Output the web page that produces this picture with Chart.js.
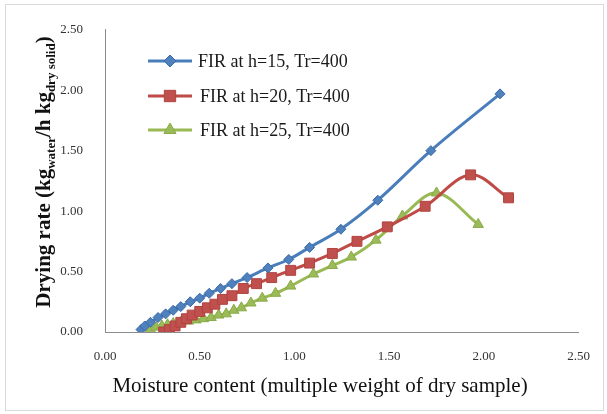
<!DOCTYPE html>
<html>
<head>
<meta charset="utf-8">
<script src="https://cdn.jsdelivr.net/npm/chart.js@4/dist/chart.umd.min.js"></script>
<style>
  html, body { margin: 0; padding: 0; background: #fff; }
  #wrap { width: 607px; height: 414px; position: relative; }
</style>
</head>
<body>
<div id="wrap"><canvas id="c" width="607" height="414"></canvas></div>
<script>
// Moisture content (x) and drying rate (y) for each FIR run
const moistureH15 = [0.19, 0.21, 0.24, 0.28, 0.32, 0.36, 0.40, 0.45, 0.50, 0.55, 0.61, 0.67, 0.75, 0.86, 0.97, 1.08, 1.245, 1.44, 1.72, 2.085];
const rateH15     = [0.02, 0.05, 0.08, 0.12, 0.15, 0.18, 0.21, 0.25, 0.28, 0.32, 0.36, 0.40, 0.45, 0.53, 0.60, 0.70, 0.85, 1.09, 1.50, 1.97];

const moistureH20 = [0.31, 0.34, 0.37, 0.40, 0.43, 0.46, 0.50, 0.54, 0.58, 0.62, 0.67, 0.73, 0.80, 0.88, 0.98, 1.08, 1.20, 1.33, 1.49, 1.69, 1.93, 2.13];
const rateH20     = [0.00, 0.02, 0.05, 0.08, 0.11, 0.14, 0.17, 0.20, 0.23, 0.27, 0.30, 0.36, 0.40, 0.45, 0.51, 0.57, 0.65, 0.75, 0.87, 1.04, 1.30, 1.11];

const moistureH25 = [0.24, 0.27, 0.30, 0.33, 0.36, 0.40, 0.44, 0.48, 0.52, 0.56, 0.60, 0.64, 0.68, 0.72, 0.77, 0.83, 0.90, 0.98, 1.10, 1.20, 1.30, 1.43, 1.57, 1.75, 1.97];
const rateH25     = [0.02, 0.04, 0.05, 0.06, 0.07, 0.08, 0.09, 0.10, 0.11, 0.12, 0.14, 0.15, 0.18, 0.20, 0.24, 0.28, 0.32, 0.38, 0.48, 0.55, 0.62, 0.76, 0.96, 1.15, 0.89];

const seriesLabels = ['FIR at h=15, Tr=400', 'FIR at h=20, Tr=400', 'FIR at h=25, Tr=400'];
const axisTicks = [0, 0.5, 1.0, 1.5, 2.0, 2.5];

const toPoints = (xs, ys) => xs.map((x, i) => ({ x: x, y: ys[i] }));

const serif = '"Liberation Serif", "Times New Roman", serif';

// White page with a light frame around the whole figure
const framePlugin = {
  id: 'frame',
  beforeDraw(chart) {
    const ctx = chart.ctx;
    ctx.save();
    ctx.fillStyle = '#ffffff';
    ctx.fillRect(0, 0, chart.width, chart.height);
    ctx.strokeStyle = '#d9d9d9';
    ctx.lineWidth = 1;
    ctx.strokeRect(5.5, 4.5, 598, 406);
    ctx.restore();
  }
};

// Legend drawn inside the plot area, top-left
const innerLegend = {
  id: 'innerLegend',
  afterDraw(chart) {
    const ctx = chart.ctx;
    const rows = [61, 96, 130];
    ctx.save();
    chart.data.datasets.forEach((ds, i) => {
      const y = rows[i];
      ctx.strokeStyle = ds.borderColor;
      ctx.lineWidth = 3;
      ctx.beginPath();
      ctx.moveTo(148, y);
      ctx.lineTo(192, y);
      ctx.stroke();
      ctx.fillStyle = ds.pointBackgroundColor;
      ctx.strokeStyle = ds.pointBorderColor;
      ctx.lineWidth = 1;
      Chart.helpers.drawPoint(ctx, {
        pointStyle: ds.pointStyle,
        radius: ds.pointRadius + 1,
        rotation: 0,
        borderWidth: 1
      }, 170, y);
      ctx.fillStyle = '#1a1a1a';
      ctx.font = '18px ' + serif;
      ctx.textBaseline = 'middle';
      ctx.textAlign = 'left';
      ctx.fillText(ds.label, i === 0 ? 198 : 200, y + 1);
    });
    ctx.restore();
  }
};

// Axis titles (the y title carries subscripts)
const axisTitles = {
  id: 'axisTitles',
  afterDraw(chart) {
    const ctx = chart.ctx;
    ctx.save();
    // x title
    ctx.fillStyle = '#111';
    ctx.font = '21px ' + serif;
    ctx.textAlign = 'center';
    ctx.textBaseline = 'middle';
    ctx.fillText('Moisture content (multiple weight of dry sample)', 320, 386);

    // y title, rotated
    const parts = [
      { t: 'Drying rate (kg', sub: false },
      { t: 'water', sub: true },
      { t: '/h kg', sub: false },
      { t: 'dry solid', sub: true },
      { t: ')', sub: false }
    ];
    const mainFont = 'bold 21px ' + serif;
    const subFont = 'bold 13px ' + serif;
    let total = 0;
    parts.forEach(p => {
      ctx.font = p.sub ? subFont : mainFont;
      p.w = ctx.measureText(p.t).width;
      total += p.w;
    });
    ctx.translate(50, 172);
    ctx.rotate(-Math.PI / 2);
    ctx.textAlign = 'left';
    ctx.textBaseline = 'alphabetic';
    let x = -total / 2;
    parts.forEach(p => {
      ctx.font = p.sub ? subFont : mainFont;
      ctx.fillText(p.t, x, p.sub ? 5 : 0);
      x += p.w;
    });
    ctx.restore();
  }
};

const tickFmt = v => Number(v).toFixed(2);

new Chart(document.getElementById('c'), {
  type: 'scatter',
  data: {
    datasets: [
      {
        label: seriesLabels[0],
        data: toPoints(moistureH15, rateH15),
        showLine: true,
        borderColor: '#4A7EBB',
        borderWidth: 3,
        pointStyle: 'rectRot',
        pointRadius: 5,
        pointBackgroundColor: '#4F81BD',
        pointBorderColor: '#3C6AA8',
        pointBorderWidth: 1,
        tension: 0.35
      },
      {
        label: seriesLabels[1],
        data: toPoints(moistureH20, rateH20),
        showLine: true,
        borderColor: '#BE4B48',
        borderWidth: 3,
        pointStyle: 'rect',
        pointRadius: 7,
        pointBackgroundColor: '#C0504D',
        pointBorderColor: '#B0433F',
        pointBorderWidth: 1,
        tension: 0.35
      },
      {
        label: seriesLabels[2],
        data: toPoints(moistureH25, rateH25),
        showLine: true,
        borderColor: '#98B954',
        borderWidth: 3,
        pointStyle: 'triangle',
        pointRadius: 6,
        pointBackgroundColor: '#9BBB59',
        pointBorderColor: '#8AAA4A',
        pointBorderWidth: 1,
        tension: 0.35
      }
    ]
  },
  options: {
    responsive: false,
    animation: false,
    layout: { padding: { top: 27, right: 20, left: 0, bottom: 0 } },
    plugins: {
      legend: { display: false },
      tooltip: { enabled: false }
    },
    scales: {
      x: {
        type: 'linear',
        min: axisTicks[0],
        max: axisTicks[axisTicks.length - 1],
        afterBuildTicks: s => { s.ticks = axisTicks.map(v => ({ value: v })); },
        afterFit: s => { s.height = 82; },
        grid: { display: false, drawTicks: false },
        border: { display: true, color: '#8c8c8c', width: 1 },
        ticks: {
          callback: tickFmt,
          padding: 17,
          color: '#333',
          font: { family: serif, size: 13 },
          maxRotation: 0
        }
      },
      y: {
        type: 'linear',
        min: axisTicks[0],
        max: axisTicks[axisTicks.length - 1],
        afterBuildTicks: s => { s.ticks = axisTicks.map(v => ({ value: v })); },
        afterFit: s => { s.width = 105; },
        grid: { display: false, drawTicks: false },
        border: { display: true, color: '#8c8c8c', width: 1 },
        ticks: {
          callback: tickFmt,
          padding: 22,
          color: '#333',
          font: { family: serif, size: 13 }
        }
      }
    }
  },
  plugins: [framePlugin, innerLegend, axisTitles]
});
</script>
</body>
</html>
